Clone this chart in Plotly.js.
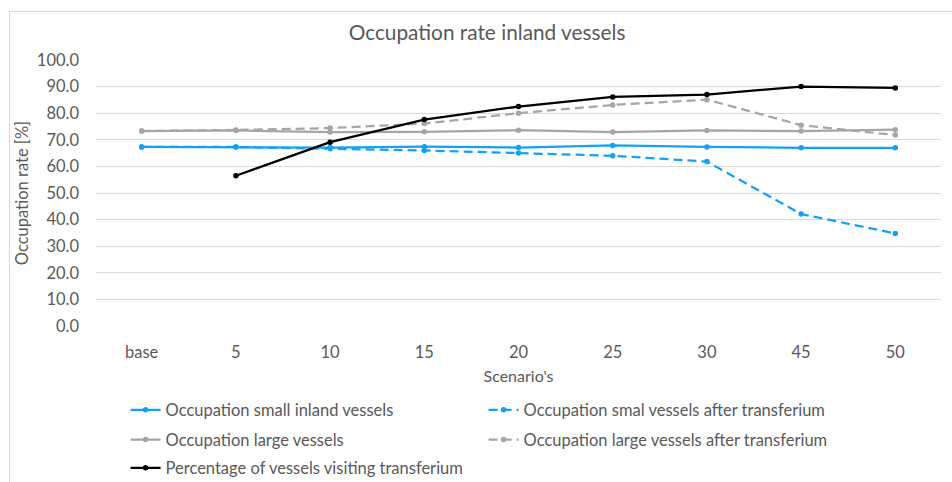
<!DOCTYPE html>
<html>
<head>
<meta charset="utf-8">
<script src="https://cdn.plot.ly/plotly-3.0.1.min.js"></script>
<style>
  html, body { margin: 0; padding: 0; background: #ffffff; }
  #wrap { position: relative; width: 952px; height: 482px; overflow: hidden; }
  #chart { position: absolute; left: 0; top: 0; width: 952px; height: 482px; }
  #frame { position: absolute; left: 9px; top: 11px; width: 1000px; height: 600px;
           border-left: 1px solid #d9d9d9; border-top: 1px solid #d9d9d9; pointer-events: none; }
</style>
</head>
<body>
<div id="wrap">
  <div id="chart"></div>
  <div id="frame"></div>
</div>
<script>
// ---- data ----
const scenarios = ["base", "5", "10", "15", "20", "25", "30", "45", "50"];
const smallInland = [67.3, 67.3, 67.1, 67.4, 67.1, 67.9, 67.3, 67.0, 67.0];
const smallAfter  = [67.3, 67.3, 66.6, 66.0, 65.0, 64.0, 61.8, 42.1, 34.8];
const largeVessels = [73.3, 73.5, 72.9, 73.0, 73.6, 72.9, 73.5, 73.3, 73.8];
const largeAfter   = [73.3, 73.7, 74.4, 76.1, 80.0, 83.1, 85.1, 75.5, 71.8];
const visiting     = [null, 56.5, 69.1, 77.6, 82.5, 86.1, 87.0, 90.0, 89.5];

const seriesNames = [
  "Occupation small inland vessels",
  "Occupation smal vessels after transferium",
  "Occupation large vessels",
  "Occupation large vessels after transferium",
  "Percentage of vessels visiting transferium"
];

const blue = "#13a2f2";
const gray = "#a6a6a6";
const black = "#000000";
const txt = "#595959";
const FONT = "Lato, 'Open Sans', sans-serif";

function tr(y, name, color, dash, legend) {
  return {
    x: scenarios, y: y, name: name, type: "scatter", mode: "lines+markers",
    line: { color: color, width: 2.25, dash: dash },
    marker: { color: color, size: 5.5, symbol: "circle" },
    legend: legend, connectgaps: false
  };
}

const traces = [
  tr(largeVessels, seriesNames[2], gray, "solid", "legend2"),
  tr(largeAfter, seriesNames[3], gray, "9px,5px", "legend2"),
  tr(smallInland, seriesNames[0], blue, "solid", "legend"),
  tr(smallAfter, seriesNames[1], blue, "9px,5px", "legend"),
  tr(visiting, seriesNames[4], black, "solid", "legend3")
];

const legBase = {
  orientation: "h", xanchor: "left", yanchor: "middle",
  font: { family: FONT, size: 16.5, color: txt },
  bgcolor: "rgba(0,0,0,0)", borderwidth: 0,
  entrywidth: 313, entrywidthmode: "pixels", traceorder: "normal"
};

const layout = {
  width: 952, height: 482,
  paper_bgcolor: "rgba(0,0,0,0)", plot_bgcolor: "rgba(0,0,0,0)",
  margin: { l: 96, r: 11, t: 60, b: 156, autoexpand: false },
  font: { family: FONT, color: txt, size: 16.5 },
  title: {
    text: "Occupation rate inland vessels",
    font: { family: FONT, size: 20.8, color: txt },
    x: 0.5116, xref: "container", xanchor: "center",
    y: 0.9315, yref: "container", yanchor: "middle"
  },
  xaxis: {
    type: "category", showgrid: false, zeroline: false, showline: false,
    ticks: "", ticklabelstandoff: 14, automargin: false,
    tickfont: { family: FONT, size: 16.5, color: txt },
    title: { text: "Scenario's", font: { family: FONT, size: 16, color: txt }, standoff: 10 }
  },
  yaxis: {
    range: [0, 100], dtick: 10, tick0: 0, tickformat: ".1f",
    showgrid: true, gridcolor: "#d9d9d9", gridwidth: 1, automargin: false,
    zeroline: false, showline: false, ticks: "", ticklabelstandoff: 16,
    tickfont: { family: FONT, size: 16.5, color: txt },
    title: { text: "Occupation rate [%]", font: { family: FONT, size: 16.5, color: txt }, standoff: 4 }
  },
  showlegend: true,
  legend:  Object.assign({}, legBase, { x: 0.035, y: -0.316 }),
  legend2: Object.assign({}, legBase, { x: 0.035, y: -0.428 }),
  legend3: Object.assign({}, legBase, { x: 0.035, y: -0.534 })
};

Plotly.newPlot("chart", traces, layout, { displayModeBar: false, staticPlot: true });
</script>
</body>
</html>
